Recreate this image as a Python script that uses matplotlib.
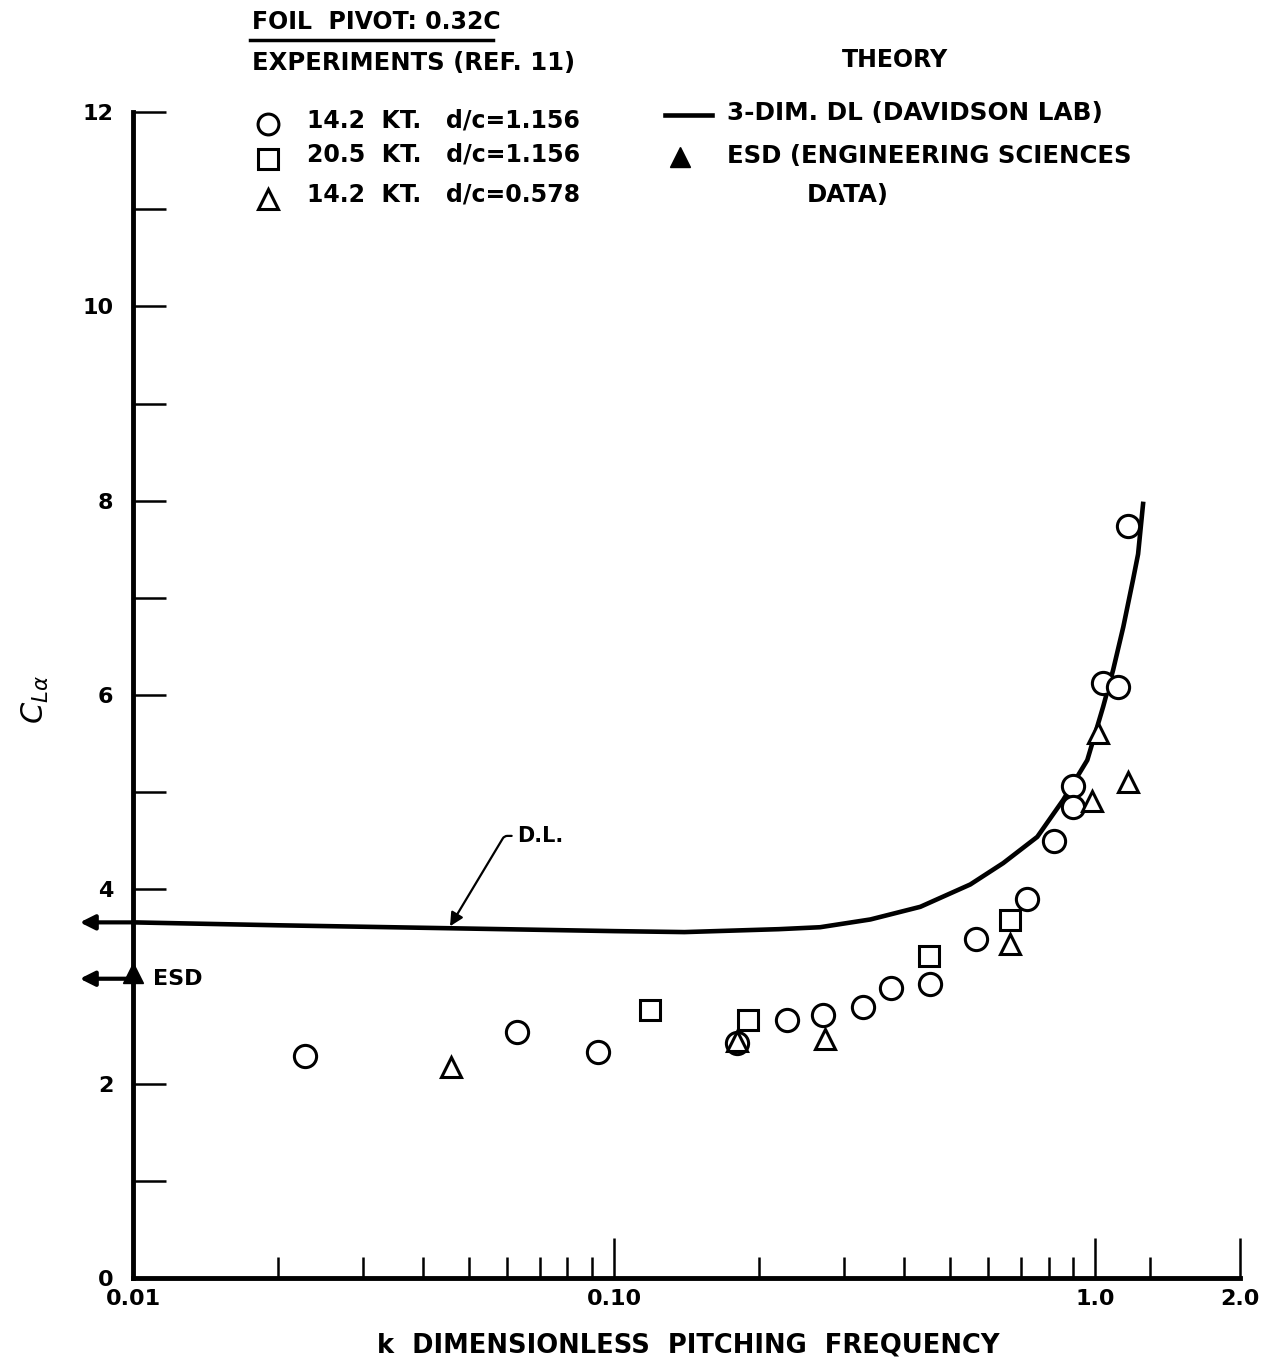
import matplotlib
matplotlib.use("Agg")
import matplotlib.pyplot as plt
from matplotlib.lines import Line2D
from matplotlib.ticker import FixedLocator, NullFormatter

# ---- data ----
# experiments, 14.2 kt, d/c = 1.156 (circles)
k_142_deep = [0.0228, 0.0629, 0.0926, 0.180, 0.229, 0.272, 0.329, 0.377, 0.454,
              0.566, 0.722, 0.822, 0.900, 0.900, 1.039, 1.116, 1.171]
cl_142_deep = [2.28, 2.53, 2.33, 2.42, 2.66, 2.71, 2.79, 2.98, 3.03,
               3.49, 3.90, 4.50, 5.06, 4.85, 6.12, 6.08, 7.74]

# experiments, 20.5 kt, d/c = 1.156 (squares)
k_205_deep = [0.119, 0.190, 0.452, 0.666]
cl_205_deep = [2.76, 2.66, 3.31, 3.68]

# experiments, 14.2 kt, d/c = 0.578 (triangles)
k_142_shallow = [0.0459, 0.180, 0.275, 0.666, 0.986, 1.014, 1.171]
cl_142_shallow = [2.17, 2.44, 2.46, 3.44, 4.91, 5.61, 5.10]

# theory: 3-dim DL (Davidson Lab)
k_dl = [0.01, 0.02, 0.045, 0.10, 0.14, 0.22, 0.268, 0.341, 0.433, 0.55, 0.644,
        0.758, 0.858, 0.963, 1.039, 1.09, 1.144, 1.199, 1.228, 1.259]
cl_dl = [3.66, 3.63, 3.60, 3.57, 3.56, 3.59, 3.61, 3.69, 3.82, 4.05, 4.27,
         4.54, 4.92, 5.33, 5.88, 6.26, 6.70, 7.19, 7.45, 7.99]

# theory: ESD (steady value at k -> 0)
k_esd = [0.01]
cl_esd = [3.14]

x_major = [0.01, 0.1, 1.0, 2.0]
x_major_labels = ["0.01", "0.10", "1.0", "2.0"]
x_minor = [0.02, 0.03, 0.04, 0.05, 0.06, 0.07, 0.08, 0.09,
           0.2, 0.3, 0.4, 0.5, 0.6, 0.7, 0.8, 0.9, 1.3]
y_ticks = [0, 1, 2, 4, 5, 6, 7, 8, 9, 10, 11, 12]

W, H = 1273, 1366
FONT = dict(family="DejaVu Sans", weight="bold")


def fx(px):
    return px / W


def fy(py):
    return 1 - py / H


fig = plt.figure(figsize=(W / 100, H / 100), dpi=100)
ax = fig.add_axes([fx(133), fy(1278), (1240 - 133) / W, (1278 - 112) / H])

ax.set_xscale("log")
ax.set_xlim(0.01, 2.0)
ax.set_ylim(0, 12)

for s in ["top", "right"]:
    ax.spines[s].set_visible(False)
for s in ["left", "bottom"]:
    ax.spines[s].set_linewidth(3.5)

ax.xaxis.set_major_locator(FixedLocator(x_major))
ax.set_xticklabels(x_major_labels, fontsize=16, **FONT)
ax.xaxis.set_minor_locator(FixedLocator(x_minor))
ax.xaxis.set_minor_formatter(NullFormatter())
ax.tick_params(axis="x", which="major", direction="in", length=29, width=1.8, pad=8)
ax.tick_params(axis="x", which="minor", direction="in", length=15, width=1.8)

ax.set_yticks(y_ticks)
ax.set_yticklabels([str(v) if v % 2 == 0 else "" for v in y_ticks], fontsize=16, **FONT)
ax.tick_params(axis="y", direction="in", length=24, width=1.8, pad=14)

# theory curve and experiments
ax.plot(k_dl, cl_dl, color="k", lw=3.3, solid_capstyle="butt", solid_joinstyle="round", zorder=2)
mk = dict(ls="none", mfc="white", mec="k", mew=2.2, zorder=3)
ax.plot(k_142_deep, cl_142_deep, marker="o", ms=16, **mk)
ax.plot(k_205_deep, cl_205_deep, marker="s", ms=15, **mk)
ax.plot(k_142_shallow, cl_142_shallow, marker="^", ms=15, **mk)
ax.plot(k_esd, cl_esd, marker="^", ms=15, color="k", ls="none", clip_on=False, zorder=4)

# arrows pointing to the k -> 0 values
arr = dict(arrowstyle="-|>", color="k", lw=3, mutation_scale=22, shrinkA=0, shrinkB=0)
ax.annotate("", xy=(-0.048, cl_dl[0]), xycoords=("axes fraction", "data"),
            xytext=(0, cl_dl[0]), textcoords=("axes fraction", "data"),
            arrowprops=arr, annotation_clip=False)
ax.annotate("", xy=(-0.048, cl_esd[0] - 0.06), xycoords=("axes fraction", "data"),
            xytext=(0, cl_esd[0] - 0.06), textcoords=("axes fraction", "data"),
            arrowprops=arr, annotation_clip=False)
ax.text(0.0110, cl_esd[0] - 0.06, "ESD", ha="left", va="center", fontsize=16, **FONT)

# D.L. leader
ax.annotate("D.L.", xy=(0.0456, 3.62), xytext=(0.0629, 4.55),
            ha="left", va="center", fontsize=15, **FONT,
            arrowprops=dict(arrowstyle="-|>", color="k", lw=1.6, mutation_scale=20,
                            connectionstyle="angle,angleA=0,angleB=59,rad=3",
                            shrinkA=2, shrinkB=0))

# axis labels
fig.text(fx(688), fy(1346), "k  DIMENSIONLESS  PITCHING  FREQUENCY",
         ha="center", va="center", fontsize=18.5, **FONT)
fig.text(fx(35), fy(700), r"$C_{L\alpha}$", rotation=90, ha="center", va="center", fontsize=22)

# header / key
fig.text(fx(252), fy(22), "FOIL  PIVOT: 0.32C", ha="left", va="center", fontsize=17, **FONT)
fig.add_artist(Line2D([fx(250), fx(493)], [fy(40), fy(40)], color="k", lw=2.5,
                      transform=fig.transFigure))
fig.text(fx(252), fy(63), "EXPERIMENTS (REF. 11)", ha="left", va="center", fontsize=17.5, **FONT)
fig.text(fx(842), fy(60), "THEORY", ha="left", va="center", fontsize=17, **FONT)

key_rows = [
    ("o", 15, 124, "14.2  KT.   d/c=1.156"),
    ("s", 14, 159, "20.5  KT.   d/c=1.156"),
    ("^", 15, 199, "14.2  KT.   d/c=0.578"),
]
for m, ms, py, label in key_rows:
    fig.add_artist(Line2D([fx(268)], [fy(py)], marker=m, ms=ms, mfc="white", mec="k",
                          mew=2.2, ls="none", transform=fig.transFigure))
    fig.text(fx(307), fy(py - 4), label, ha="left", va="center", fontsize=17, **FONT)

fig.add_artist(Line2D([fx(665), fx(712)], [fy(115), fy(115)], color="k", lw=3.3,
                      transform=fig.transFigure))
fig.text(fx(727), fy(113), "3-DIM. DL (DAVIDSON LAB)", ha="left", va="center",
         fontsize=17.8, **FONT)
fig.add_artist(Line2D([fx(680)], [fy(157)], marker="^", ms=15, color="k", ls="none",
                      transform=fig.transFigure))
fig.text(fx(727), fy(156), "ESD (ENGINEERING SCIENCES", ha="left", va="center",
         fontsize=17.6, **FONT)
fig.text(fx(807), fy(195), "DATA)", ha="left", va="center", fontsize=17.6, **FONT)

fig.savefig("out.png", dpi=100, facecolor="white")
